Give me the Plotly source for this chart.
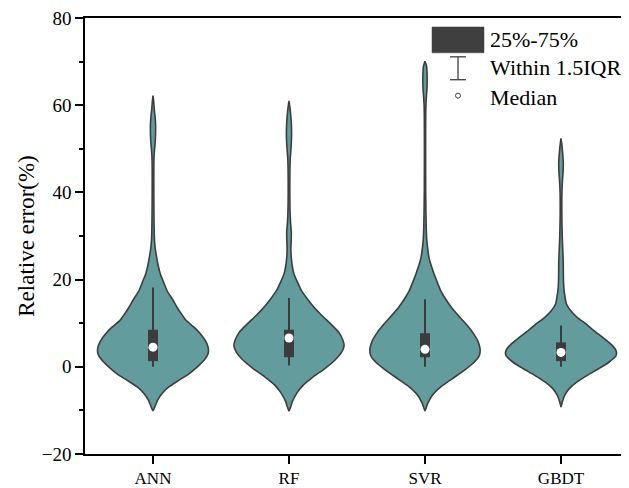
import plotly.graph_objects as go

categories = ["ANN", "RF", "SVR", "GBDT"]

# violin density profiles (value level -> relative half-width)
ann_y = [-10.1, -9.1, -7.6, -6.1, -4.6, -3.1, -1.6, 0.0, 1.5, 3.0, 4.5, 6.0, 7.6, 9.1, 10.6, 12.2, 13.6, 15.6, 17.4, 19.3, 21.3, 23.1, 25.0, 27.0, 29.0, 32, 36, 40, 45, 48, 50, 52, 55, 57, 59, 61, 62.2]
ann_w = [0, 2, 4.7, 9, 15.7, 25.7, 35.7, 44, 50.7, 54.7, 54.7, 52, 47, 40.7, 33, 28, 24, 19, 14, 10.7, 7.3, 5.3, 3.7, 2.3, 1.5, 1.1, 0.9, 0.8, 0.8, 1.0, 1.6, 2.3, 2.6, 2.2, 1.3, 0.6, 0]
rf_y = [-10.1, -8.0, -6.1, -4.2, -2.3, -0.4, 1.5, 3.3, 4.8, 6.0, 7.9, 9.8, 11.7, 13.6, 15.6, 17.4, 19.3, 21.3, 23.1, 25.0, 27.0, 29, 31, 33, 36, 40, 45, 48, 50, 53, 55, 57, 59, 61]
rf_w = [0, 3.3, 7.7, 14.3, 24.3, 36, 46, 52.7, 55.3, 54.3, 50, 42, 33.3, 25.3, 18.3, 12.7, 8.7, 5, 3.3, 2.3, 1.9, 2.2, 2.3, 1.6, 1.0, 0.8, 0.9, 1.3, 2.0, 2.6, 2.5, 2.0, 1.2, 0]
svr_y = [-10.1, -8.4, -6.5, -4.6, -2.7, -0.8, 1.1, 2.6, 4.1, 6.0, 7.9, 9.8, 11.7, 13.6, 15.6, 17.4, 19.3, 21.3, 23.1, 25.0, 27.0, 29.0, 32, 40, 50, 58, 60, 62, 64, 67, 69, 70.1]
svr_w = [0, 2.7, 7.3, 15.7, 27.3, 39, 49, 54, 54.7, 52.3, 47.3, 40.7, 33.3, 26.3, 20.3, 15.7, 12.3, 9, 6.3, 4, 2.7, 1.8, 1.2, 0.7, 0.6, 0.7, 0.9, 1.4, 2.0, 2.1, 1.5, 0]
gbdt_y = [-9.2, -8.0, -6.5, -5.0, -3.5, -1.9, -0.4, 1.1, 2.6, 3.7, 5.2, 6.8, 8.3, 9.8, 11.3, 12.9, 14.4, 15.9, 18, 21, 24, 27, 30, 35, 40, 43, 45, 47, 49, 51, 52.4]
gbdt_w = [0, 1.3, 3.7, 8, 15.3, 26, 37, 47, 53.7, 53.7, 48.7, 40.3, 32, 24.7, 16, 9.3, 5.3, 4, 2.8, 2.3, 2.2, 1.7, 1.2, 0.8, 0.9, 1.5, 2.1, 2.2, 1.6, 0.8, 0]

# box statistics
q1 = [1.3, 2.2, 2.2, 1.3]
median = [4.5, 6.6, 4.0, 3.3]
q3 = [8.5, 8.5, 7.7, 5.6]
lower = [0.0, 0.3, 0.0, 0.0]
upper = [18.2, 15.8, 15.5, 9.5]

profiles_y = [ann_y, rf_y, svr_y, gbdt_y]
profiles_w = [ann_w, rf_w, svr_w, gbdt_w]

FILL = "#629c9c"
EDGE = "#3d3d3d"
BOX = "#3c3c3c"
FONT = "Liberation Serif"
HALF = 0.405

fig = go.Figure()

for i, (ys, ws) in enumerate(zip(profiles_y, profiles_w)):
    m = max(ws)
    xr = [i + w / m * HALF for w in ws]
    xl = [i - w / m * HALF for w in ws]
    px = xr + xl[::-1]
    py = ys + ys[::-1]
    fig.add_trace(go.Scatter(
        x=px, y=py, mode="lines", fill="toself", fillcolor=FILL,
        line=dict(color=EDGE, width=1.6, shape="spline", smoothing=0.6),
        showlegend=False, hoverinfo="skip"))

# whiskers and boxes (drawn as scatter lines so they sit above the violins)
wx, wy, bx, by = [], [], [], []
for i in range(len(categories)):
    wx += [i, i, None]
    wy += [lower[i], upper[i], None]
    bx += [i, i, None]
    by += [q1[i], q3[i], None]
fig.add_trace(go.Scatter(x=wx, y=wy, mode="lines", line=dict(color=BOX, width=2),
                         showlegend=False, hoverinfo="skip"))
fig.add_trace(go.Scatter(x=bx, y=by, mode="lines", line=dict(color=BOX, width=10),
                         showlegend=False, hoverinfo="skip"))
fig.add_trace(go.Scatter(
    x=list(range(len(categories))), y=median, mode="markers",
    marker=dict(color="white", size=9, line=dict(width=0)),
    showlegend=False, hoverinfo="skip"))

# custom legend (page pixel -> paper coords; page has 8px body margin)
def px_x(p):
    return (p - 85) / 544
def px_y(p):
    return (454 - p) / 438

shapes = [
    dict(type="rect", xref="paper", yref="paper", x0=px_x(432), x1=px_x(484),
         y0=px_y(51), y1=px_y(25), fillcolor="#3f3f3f", line=dict(color="#3f3f3f", width=0.5)),
    dict(type="line", xref="paper", yref="paper", x0=px_x(458), x1=px_x(458),
         y0=px_y(78), y1=px_y(55), line=dict(color="#3f3f3f", width=1.3)),
    dict(type="line", xref="paper", yref="paper", x0=px_x(450), x1=px_x(466),
         y0=px_y(55), y1=px_y(55), line=dict(color="#3f3f3f", width=1.3)),
    dict(type="line", xref="paper", yref="paper", x0=px_x(450), x1=px_x(466),
         y0=px_y(78), y1=px_y(78), line=dict(color="#3f3f3f", width=1.3)),
    dict(type="circle", xref="paper", yref="paper", xsizemode="pixel", ysizemode="pixel",
         xanchor=px_x(458), yanchor=px_y(94), x0=-2.5, x1=2.5, y0=-2.5, y1=2.5,
         line=dict(color="#3f3f3f", width=1), fillcolor="white"),
]
legend_texts = ["25%-75%", "Within 1.5IQR", "Median"]
legend_ys = [38, 66, 96]
annotations = [
    dict(x=px_x(488), y=px_y(yy), xref="paper", yref="paper", text=t, showarrow=False,
         xanchor="left", yanchor="middle", font=dict(family=FONT, size=22, color="black"))
    for t, yy in zip(legend_texts, legend_ys)
]

fig.update_layout(
    width=621, height=480,
    margin=dict(l=77, r=0, t=8, b=34),
    paper_bgcolor="white", plot_bgcolor="white",
    font=dict(family=FONT, color="black"),
    shapes=shapes, annotations=annotations,
    showlegend=False,
    xaxis=dict(
        range=[-0.5, 3.5], tickvals=list(range(len(categories))), ticktext=categories,
        showline=True, linecolor="black", linewidth=1.6, mirror=True,
        ticks="outside", ticklen=8, tickwidth=1.5, tickcolor="black",
        showgrid=False, zeroline=False, tickfont=dict(family=FONT, size=17)),
    yaxis=dict(
        range=[-20, 80], tickmode="linear", tick0=0, dtick=20,
        showline=True, linecolor="black", linewidth=1.6,
        ticks="outside", ticklen=8, tickwidth=1.5, tickcolor="black",
        ticklabeloverflow="allow",
        minor=dict(tickmode="linear", tick0=0, dtick=10, ticks="outside", ticklen=4,
                   tickwidth=1.5, tickcolor="black", showgrid=False),
        showgrid=False, zeroline=False, tickfont=dict(family=FONT, size=19),
        title=dict(text="Relative error(%)", font=dict(family=FONT, size=23), standoff=1)),
)

fig.write_html("out.html")
